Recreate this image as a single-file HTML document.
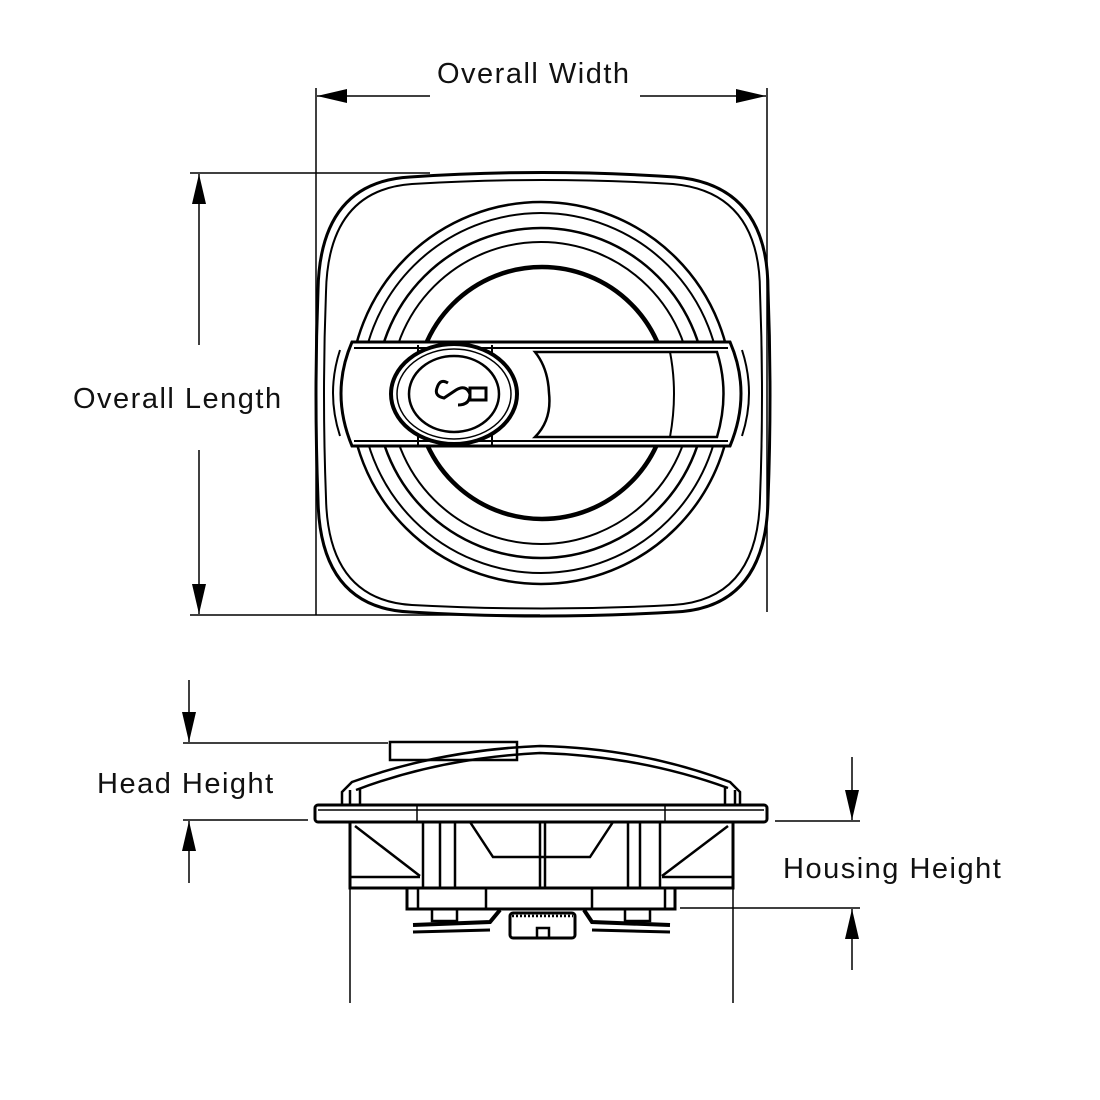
<!DOCTYPE html>
<html><head><style>
html,body{margin:0;padding:0;background:#fff;}
svg{display:block;}
text{font-family:"Liberation Sans",sans-serif;font-size:29px;letter-spacing:1.5px;fill:#111;}
</style></head><body>
<svg width="1100" height="1100" viewBox="0 0 1100 1100" xmlns="http://www.w3.org/2000/svg">
<defs>
<marker id="ah" viewBox="0 0 30 14" refX="30" refY="7" markerWidth="30" markerHeight="14" markerUnits="userSpaceOnUse" orient="auto">
<path d="M0,0 L30,7 L0,14 Z" fill="#000"/>
</marker>
</defs>
<g stroke="#000" fill="none" stroke-width="1.5">
<line x1="316" y1="88" x2="316" y2="615"/>
<line x1="767" y1="88" x2="767" y2="612"/>
<line x1="430" y1="96" x2="317" y2="96" marker-end="url(#ah)"/>
<line x1="640" y1="96" x2="766" y2="96" marker-end="url(#ah)"/>
<line x1="190" y1="173" x2="430" y2="173"/>
<line x1="190" y1="615" x2="540" y2="615"/>
<line x1="199" y1="345" x2="199" y2="174" marker-end="url(#ah)"/>
<line x1="199" y1="450" x2="199" y2="614" marker-end="url(#ah)"/>
<line x1="183" y1="743" x2="388" y2="743"/>
<line x1="183" y1="820" x2="308" y2="820"/>
<line x1="189" y1="680" x2="189" y2="742" marker-end="url(#ah)"/>
<line x1="189" y1="883" x2="189" y2="821" marker-end="url(#ah)"/>
<line x1="775" y1="821" x2="860" y2="821"/>
<line x1="680" y1="908" x2="860" y2="908"/>
<line x1="852" y1="757" x2="852" y2="820" marker-end="url(#ah)"/>
<line x1="852" y1="970" x2="852" y2="909" marker-end="url(#ah)"/>
<line x1="350" y1="888" x2="350" y2="1003"/>
<line x1="733" y1="888" x2="733" y2="1003"/>
</g>
<text x="437" y="83">Overall Width</text>
<text x="73" y="408">Overall Length</text>
<text x="97" y="793">Head Height</text>
<text x="783" y="878">Housing Height</text>

<g stroke="#000" fill="none">
<path d="M410,177 Q542,168 675,177 Q768,185 768,290 Q772,395 768,500 Q766,608 675,612 Q542,620 410,612 Q320,608 318,500 Q314,395 318,290 Q320,182 410,177 Z" stroke-width="3"/>
<path d="M412,184 Q542,176 673,184 Q760,192 760,292 Q764,395 760,498 Q758,600 673,605 Q542,612 412,605 Q328,600 326,498 Q322,395 326,292 Q328,190 412,184 Z" stroke-width="2"/>
<circle cx="541" cy="393" r="191" stroke-width="2.5"/>
<circle cx="541" cy="393" r="180" stroke-width="2"/>
<circle cx="541" cy="393" r="165" stroke-width="2.5"/>
<circle cx="541" cy="393" r="151" stroke-width="2"/>
<circle cx="542" cy="393" r="126" stroke-width="4.5"/>
</g>
<path d="M352,342 L730,342 Q752,393 730,446 L352,446 Q330,393 352,342 Z" fill="#fff" stroke="#000" stroke-width="3"/>
<g stroke="#000" fill="none" stroke-width="2">
<line x1="354" y1="348" x2="728" y2="348"/>
<line x1="354" y1="441" x2="728" y2="441"/>
<path d="M340,350 Q326,393 340,436"/>
<path d="M742,350 Q756,393 742,436"/>
<path d="M535,352 L717,352 Q730,393 717,437 L535,437 Q552,420 549,393 Q548,368 535,352 Z" stroke-width="2.5"/>
<path d="M670,352 Q678,393 670,437"/>
<line x1="418" y1="345" x2="418" y2="446"/>
<line x1="492" y1="345" x2="492" y2="446"/>
</g>
<ellipse cx="454" cy="394" rx="63" ry="50" fill="#fff" stroke="#000" stroke-width="4"/>
<ellipse cx="454" cy="394" rx="57" ry="45" fill="none" stroke="#000" stroke-width="1.5"/>
<ellipse cx="454" cy="394" rx="45" ry="38" fill="#fff" stroke="#000" stroke-width="2.5"/>
<g stroke="#000" fill="none" stroke-width="3">
<path d="M448,383 Q440,378 437,388 Q434,396 444,398 L456,390 Q466,384 470,394 Q470,405 458,405"/>
<rect x="470" y="388" width="16" height="12"/>
</g>

<g stroke="#000" fill="none" stroke-width="2.5">
<rect x="390" y="742" width="127" height="18" fill="#fff"/>
<path d="M342,805 L342,792 L352,782 Q440,750 540,746 Q640,748 730,782 L740,792 L740,805"/>
<path d="M356,790 Q440,758 540,753 Q640,756 728,788"/>
<path d="M350,805 L350,790 M360,805 L360,788 M725,805 L725,788 M735,805 L735,790"/>
<rect x="315" y="805" width="452" height="17" rx="3" fill="#fff" stroke-width="3"/>
<line x1="318" y1="810" x2="764" y2="810" stroke-width="1.5"/>
<line x1="417" y1="805" x2="417" y2="822" stroke-width="1.5"/>
<line x1="665" y1="805" x2="665" y2="822" stroke-width="1.5"/>
<rect x="350" y="822" width="383" height="66" stroke-width="3"/>
<line x1="350" y1="877" x2="420" y2="877"/>
<line x1="662" y1="877" x2="733" y2="877"/>
<line x1="355" y1="826" x2="420" y2="876"/>
<line x1="728" y1="826" x2="662" y2="876"/>
<line x1="423" y1="822" x2="423" y2="888"/>
<line x1="440" y1="822" x2="440" y2="888"/>
<line x1="455" y1="822" x2="455" y2="888"/>
<line x1="640" y1="822" x2="640" y2="888"/>
<line x1="628" y1="822" x2="628" y2="888"/>
<line x1="660" y1="822" x2="660" y2="888"/>
<line x1="540" y1="822" x2="540" y2="888"/>
<line x1="545" y1="822" x2="545" y2="888"/>
<path d="M470,822 L493,857 L590,857 L613,822"/>
<rect x="407" y="888" width="268" height="21" stroke-width="3"/>
<line x1="418" y1="888" x2="418" y2="909"/>
<line x1="486" y1="888" x2="486" y2="909"/>
<line x1="592" y1="888" x2="592" y2="909"/>
<line x1="665" y1="888" x2="665" y2="909"/>
<path d="M413,925 L490,922 L500,910 M670,925 L592,922 L584,910" stroke-width="4"/>
<path d="M413,932 L490,930 M670,932 L592,930" stroke-width="3"/>
<rect x="432" y="909" width="25" height="12"/>
<rect x="625" y="909" width="25" height="12"/>
<rect x="510" y="913" width="65" height="25" rx="3" stroke-width="3"/>
<path d="M537,938 L537,928 L549,928 L549,938"/>
<line x1="512" y1="916" x2="573" y2="916" stroke-dasharray="2,2"/>
</g>
</svg>
</body></html>
